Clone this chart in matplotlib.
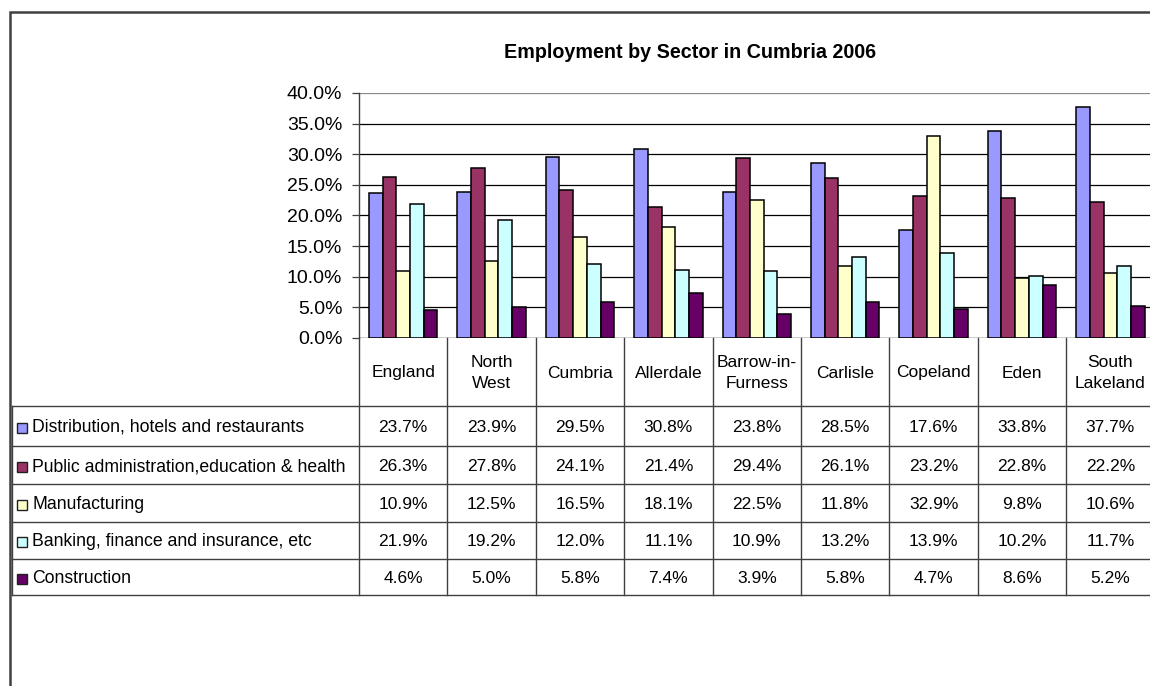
import matplotlib
matplotlib.use("Agg")
import matplotlib.pyplot as plt
from matplotlib.patches import Rectangle
import numpy as np

# ---------------- data ----------------
categories = ["England", "North\nWest", "Cumbria", "Allerdale", "Barrow-in-\nFurness",
              "Carlisle", "Copeland", "Eden", "South\nLakeland"]
sectors = ["Distribution, hotels and restaurants",
           "Public administration,education & health",
           "Manufacturing",
           "Banking, finance and insurance, etc",
           "Construction"]
distribution = [23.7, 23.9, 29.5, 30.8, 23.8, 28.5, 17.6, 33.8, 37.7]
public_admin = [26.3, 27.8, 24.1, 21.4, 29.4, 26.1, 23.2, 22.8, 22.2]
manufacturing = [10.9, 12.5, 16.5, 18.1, 22.5, 11.8, 32.9, 9.8, 10.6]
banking = [21.9, 19.2, 12.0, 11.1, 10.9, 13.2, 13.9, 10.2, 11.7]
construction = [4.6, 5.0, 5.8, 7.4, 3.9, 5.8, 4.7, 8.6, 5.2]
yticks = [0, 5, 10, 15, 20, 25, 30, 35, 40]
title = "Employment by Sector in Cumbria 2006"

series = [distribution, public_admin, manufacturing, banking, construction]
colors = ["#9999FF", "#993366", "#FFFFCC", "#CCFFFF", "#660066"]

# ---------------- layout (pixels) ----------------
W, H = 1150, 686
plot_left, plot_top, plot_bottom = 359, 93, 338
cat_w = 88.4
ncat = len(categories)
row_lines = [406, 446, 484, 522, 559, 595]
table_left = 12
line_col = "#404040"
FONT = "Liberation Sans"

fig = plt.figure(figsize=(W / 100, H / 100), dpi=100)
fig.patch.set_facecolor("white")

# background / table axes in pixel coordinates
bg = fig.add_axes([0, 0, 1, 1], zorder=0)
bg.set_xlim(0, W)
bg.set_ylim(H, 0)
bg.axis("off")

# bar axes
ax = fig.add_axes([plot_left / W, (H - plot_bottom) / H,
                   ncat * cat_w / W, (plot_bottom - plot_top) / H], zorder=1)
ax.set_facecolor("none")
x = np.arange(ncat)
bw = 0.155
nser = len(series)
for i, (vals, c) in enumerate(zip(series, colors)):
    ax.bar(x + (i - (nser - 1) / 2) * bw, vals, width=bw, color=c,
           edgecolor="black", linewidth=1.1, zorder=3)
ax.set_xlim(-0.5, ncat - 0.5)
ax.set_ylim(0, 40)
ax.set_yticks(yticks)
ax.set_yticklabels([f"{v:.1f}%" for v in yticks], fontsize=14, family=FONT)
ax.set_xticks([])
for v in yticks[1:]:
    ax.axhline(v, color="black" if v < 40 else "#888888", linewidth=0.9, zorder=1)
for s in ["top", "right", "bottom"]:
    ax.spines[s].set_visible(False)
ax.spines["left"].set_color(line_col)
ax.spines["left"].set_linewidth(1.0)
ax.axhline(0, color="black", linewidth=1.0, zorder=4)
ax.tick_params(axis="y", length=5, width=0.9, color=line_col, pad=7)

# title
fig.text(690 / W, 1 - 53 / H, title, ha="center", va="center",
         fontsize=14.2, fontweight="bold", family=FONT)

# outer border
bg.plot([10, 10, W], [H, 12, 12], color=line_col, linewidth=1.8,
        solid_joinstyle="miter", clip_on=False)

# table lines
col_edges = [plot_left + k * cat_w for k in range(ncat + 1)]
for xe in col_edges[:-1]:
    bg.plot([xe, xe], [plot_bottom, row_lines[-1]], color=line_col, linewidth=1.0)
bg.plot([table_left, table_left], [row_lines[0], row_lines[-1]], color=line_col, linewidth=1.0)
for yl in row_lines:
    bg.plot([table_left, W], [yl, yl], color=line_col, linewidth=1.0)

# category header texts
for k, cat in enumerate(categories):
    cx = plot_left + (k + 0.5) * cat_w
    bg.text(cx, (plot_bottom + row_lines[0]) / 2 + 1, cat, ha="center", va="center",
            fontsize=12.5, family=FONT, linespacing=1.5)

# data rows
for r, (name, vals, c) in enumerate(zip(sectors, series, colors)):
    cy = (row_lines[r] + row_lines[r + 1]) / 2 + 1.5
    bg.add_patch(Rectangle((17, cy - 5), 10, 10, facecolor=c, edgecolor="#202020", linewidth=1.0))
    bg.text(32, cy, name, ha="left", va="center", fontsize=12.7, family=FONT)
    for k, v in enumerate(vals):
        cx = plot_left + (k + 0.5) * cat_w
        bg.text(cx, cy, f"{v:.1f}%", ha="center", va="center", fontsize=12.5, family=FONT)

fig.savefig("out.png", dpi=100, facecolor="white")
